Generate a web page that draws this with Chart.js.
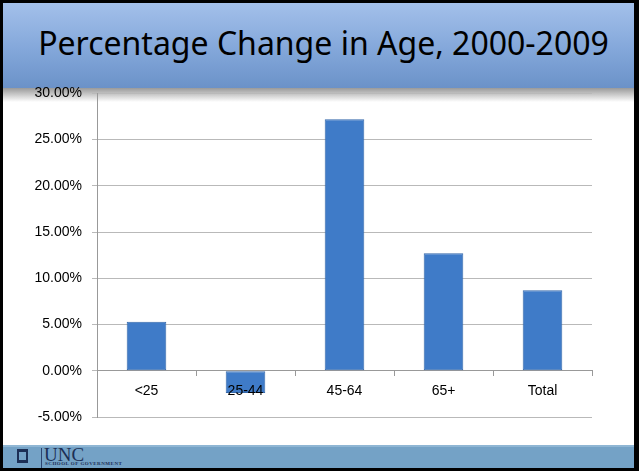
<!DOCTYPE html>
<html>
<head>
<meta charset="utf-8">
<script src="https://cdn.jsdelivr.net/npm/chart.js@4/dist/chart.umd.min.js"></script>
<style>
  html, body { margin: 0; padding: 0; background: #fff; }
  #slide {
    position: relative; width: 639px; height: 471px; box-sizing: border-box;
    border: 3px solid #000; border-right-width: 5px; overflow: hidden; background: #fff;
  }
  #title {
    position: absolute; left: 0; top: 0; right: 0; height: 85px;
    background: linear-gradient(#a3c0ea, #83a7da 55%, #6b92c8);
    font-family: "Noto Sans", sans-serif; font-size: 32px; color: #000;
    display: flex; align-items: center; justify-content: center;
    padding-bottom: 6px; padding-left: 10px; box-sizing: border-box;
  }
  #shadow {
    position: absolute; left: 0; right: 0; top: 85px; height: 14px;
    background: linear-gradient(#9a9a9a, rgba(255,255,255,0));
  }
  #footer {
    position: absolute; left: 0; right: 0; top: 442px; bottom: 0;
    background: #74a2c6; border-top: 2px solid #8fb6d4;
  }
  #logo-icon {
    position: absolute; left: 14px; top: 2px; width: 11px; height: 14px;
    border: 2px solid #1c2f55; box-sizing: border-box; border-top-width: 3px; border-bottom-width: 3px;
  }
  #logo-sep { position: absolute; left: 38px; top: 1px; width: 1px; height: 20px; background: #2c4470; }
  #logo-unc {
    position: absolute; left: 41px; top: -2px; font-family: "Liberation Serif", serif;
    font-size: 19px; line-height: 19px; color: #1c2f55; letter-spacing: 0px;
  }
  #logo-sub {
    position: absolute; left: 42px; top: 14px; font-family: "Liberation Serif", serif;
    font-size: 5px; line-height: 5px; color: #1c2f55; letter-spacing: 0.5px; font-weight: bold;
  }
  #wrap { position: absolute; left: -3px; top: 72px; width: 639px; height: 369px; }
</style>
</head>
<body>
<div id="slide">
  <div id="title">Percentage Change in Age, 2000-2009</div>
  <div id="shadow"></div>
  <div id="wrap"><canvas id="chart"></canvas></div>
  <div id="footer">
    <div id="logo-icon"></div>
    <div id="logo-sep"></div>
    <div id="logo-unc">UNC</div>
    <div id="logo-sub">SCHOOL OF GOVERNMENT</div>
  </div>
</div>
<script>
// age groups and percentage change
const categories = ['<25', '25-44', '45-64', '65+', 'Total'];
const changeValues = [5.3, -2.4, 27.2, 12.7, 8.7];
const yTicks = { min: -5, max: 30, step: 5 };

const ctx = document.getElementById('chart').getContext('2d');

function barFill(context) {
  const el = context.element;
  if (!context.chart.chartArea || !el || el.x === undefined) return '#3f7bc8';
  const half = el.width / 2;
  const g = context.chart.ctx.createLinearGradient(el.x - half, 0, el.x + half, 0);
  g.addColorStop(0, '#3568ad');
  g.addColorStop(0.12, '#3e7ac6');
  g.addColorStop(0.5, '#4383d0');
  g.addColorStop(0.88, '#3e7ac6');
  g.addColorStop(1, '#2d5c9c');
  return g;
}

new Chart(ctx, {
  type: 'bar',
  data: {
    labels: categories,
    datasets: [{
      data: changeValues,
      backgroundColor: barFill,
      borderColor: '#3468aa',
      borderWidth: 1,
      borderSkipped: false,
      barPercentage: 0.8,
      categoryPercentage: 0.5
    }]
  },
  options: {
    responsive: true,
    maintainAspectRatio: false,
    animation: false,
    layout: { padding: { left: 0, right: 47, top: 5, bottom: 27 } },
    plugins: { legend: { display: false }, tooltip: { enabled: false } },
    scales: {
      x: {
        position: { y: 0 },
        grid: { offset: true, drawOnChartArea: false, drawTicks: true, tickLength: 5, color: '#999' },
        border: { color: '#999' },
        ticks: {
          z: 1, color: '#000', font: { family: 'Liberation Sans', size: 14 },
          padding: 7, autoSkip: false, maxRotation: 0
        }
      },
      y: {
        min: yTicks.min,
        max: yTicks.max,
        afterFit: (scale) => { scale.width = 97; },
        grid: { color: '#b9b9b9', tickLength: 5 },
        border: { color: '#999' },
        ticks: {
          stepSize: yTicks.step,
          color: '#000',
          font: { family: 'Liberation Sans', size: 14 },
          padding: 10,
          callback: (v) => v.toFixed(2) + '%'
        }
      }
    }
  }
});
</script>
</body>
</html>
